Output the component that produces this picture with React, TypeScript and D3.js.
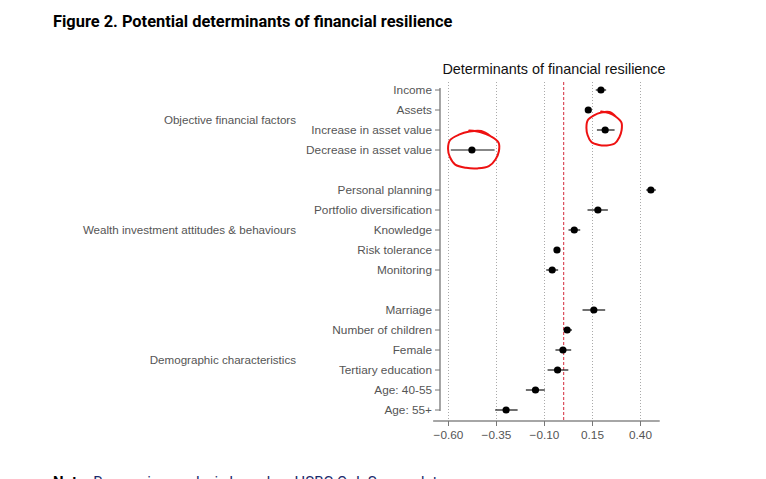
import React, { useRef, useEffect } from "react";
import * as d3 from "d3";

// rows, top to bottom ("" = empty slot between groups)
const rowLabels = [
  "Income",
  "Assets",
  "Increase in asset value",
  "Decrease in asset value",
  "",
  "Personal planning",
  "Portfolio diversification",
  "Knowledge",
  "Risk tolerance",
  "Monitoring",
  "",
  "Marriage",
  "Number of children",
  "Female",
  "Tertiary education",
  "Age: 40-55",
  "Age: 55+",
];
const estimates = [0.194, 0.128, 0.216, -0.478, NaN, 0.454, 0.178, 0.055, -0.035, -0.06, NaN, 0.157, 0.018, -0.004, -0.032, -0.147, -0.3];
const ciLow = [0.167, 0.118, 0.173, -0.588, NaN, 0.43, 0.124, 0.025, -0.045, -0.091, NaN, 0.098, 0.001, -0.043, -0.084, -0.197, -0.357];
const ciHigh = [0.221, 0.138, 0.265, -0.36, NaN, 0.48, 0.23, 0.086, -0.025, -0.029, NaN, 0.216, 0.043, 0.039, 0.024, -0.098, -0.24];

const groupLabels = ["Objective financial factors", "Wealth investment attitudes & behaviours", "Demographic characteristics"];
const groupCenters = [1.5, 7, 13.5]; // slot positions

const xTicks = [-0.6, -0.35, -0.1, 0.15, 0.4];
const circledRows = [3, 2]; // hand-drawn red annotations

const App: React.FC = () => {
  const ref = useRef<SVGSVGElement | null>(null);

  useEffect(() => {
    const svg = d3.select(ref.current);
    svg.selectAll("*").remove();

    const x = d3.scaleLinear().domain([-0.6, 0.4]).range([448.5, 640.5]);
    const y = d3.scaleLinear().domain([0, rowLabels.length - 1]).range([90, 410]);
    const font = "'Liberation Sans', Arial, sans-serif";
    const gridTop = 82;
    const axisY = 421;

    // figure caption
    svg
      .append("text")
      .attr("x", 53)
      .attr("y", 27)
      .attr("font-family", "Roboto, 'Noto Sans', sans-serif")
      .attr("font-weight", 700)
      .attr("font-size", 16.4)
      .attr("fill", "#000")
      .text("Figure 2. Potential determinants of financial resilience");

    // chart title
    svg
      .append("text")
      .attr("x", 554)
      .attr("y", 74)
      .attr("text-anchor", "middle")
      .attr("font-family", font)
      .attr("font-size", 14.4)
      .attr("fill", "#111")
      .text("Determinants of financial resilience");

    // gridlines
    svg
      .append("g")
      .selectAll("line")
      .data(xTicks)
      .enter()
      .append("line")
      .attr("x1", (d) => x(d))
      .attr("x2", (d) => x(d))
      .attr("y1", gridTop)
      .attr("y2", axisY)
      .attr("stroke", "#aaa")
      .attr("stroke-width", 1)
      .attr("stroke-dasharray", "1,2");

    // zero reference line
    svg
      .append("line")
      .attr("x1", x(0))
      .attr("x2", x(0))
      .attr("y1", gridTop)
      .attr("y2", axisY)
      .attr("stroke", "#d42a3a")
      .attr("stroke-width", 1)
      .attr("stroke-dasharray", "3,2");

    // left axis
    const leftX = 440;
    svg
      .append("line")
      .attr("x1", leftX)
      .attr("x2", leftX)
      .attr("y1", y(0) - 2)
      .attr("y2", y(rowLabels.length - 1) + 1)
      .attr("stroke", "#888")
      .attr("stroke-width", 1.5);

    const rows = rowLabels.map((label, i) => ({ label, i })).filter((d) => d.label !== "");
    const rowG = svg.append("g");
    rowG
      .selectAll("line")
      .data(rows)
      .enter()
      .append("line")
      .attr("x1", leftX - 5)
      .attr("x2", leftX)
      .attr("y1", (d) => y(d.i))
      .attr("y2", (d) => y(d.i))
      .attr("stroke", "#777")
      .attr("stroke-width", 1);
    rowG
      .selectAll("text")
      .data(rows)
      .enter()
      .append("text")
      .attr("x", leftX - 8)
      .attr("y", (d) => y(d.i))
      .attr("dy", "0.35em")
      .attr("text-anchor", "end")
      .attr("font-family", font)
      .attr("font-size", 11.8)
      .attr("fill", "#555")
      .text((d) => d.label);

    // group labels
    svg
      .append("g")
      .selectAll("text")
      .data(groupLabels)
      .enter()
      .append("text")
      .attr("x", 296)
      .attr("y", (d, i) => y(groupCenters[i]))
      .attr("dy", "0.35em")
      .attr("text-anchor", "end")
      .attr("font-family", font)
      .attr("font-size", 11.6)
      .attr("fill", "#555")
      .text((d) => d);

    // bottom axis
    const bottom = svg.append("g");
    bottom
      .append("line")
      .attr("x1", x(-0.68))
      .attr("x2", x(0.5))
      .attr("y1", axisY)
      .attr("y2", axisY)
      .attr("stroke", "#888")
      .attr("stroke-width", 1.5);
    bottom
      .selectAll(".tick")
      .data(xTicks)
      .enter()
      .append("line")
      .attr("x1", (d) => x(d))
      .attr("x2", (d) => x(d))
      .attr("y1", axisY)
      .attr("y2", axisY + 5)
      .attr("stroke", "#777");
    bottom
      .selectAll("text")
      .data(xTicks)
      .enter()
      .append("text")
      .attr("x", (d) => x(d))
      .attr("y", axisY + 18)
      .attr("text-anchor", "middle")
      .attr("font-family", font)
      .attr("font-size", 11.8)
      .attr("fill", "#555")
      .text((d) => d3.format(".2f")(d));

    // confidence intervals and points
    const pts = rowLabels
      .map((label, i) => ({ label, i, est: estimates[i], lo: ciLow[i], hi: ciHigh[i] }))
      .filter((d) => !isNaN(d.est));
    svg
      .append("g")
      .selectAll("line")
      .data(pts)
      .enter()
      .append("line")
      .attr("x1", (d) => x(d.lo))
      .attr("x2", (d) => x(d.hi))
      .attr("y1", (d) => y(d.i))
      .attr("y2", (d) => y(d.i))
      .attr("stroke", "#111")
      .attr("stroke-width", 1.2);
    svg
      .append("g")
      .selectAll("circle")
      .data(pts)
      .enter()
      .append("circle")
      .attr("cx", (d) => x(d.est))
      .attr("cy", (d) => y(d.i))
      .attr("r", 3.6)
      .attr("fill", "#000");

    // hand-drawn red circles
    const loop = d3.line<[number, number]>().curve(d3.curveCatmullRom);
    circledRows.forEach((ri, k) => {
      const cx = k === 0 ? x(-0.47) : x(0.21);
      const cy = y(ri) + (k === 0 ? 0 : -1);
      const rx = k === 0 ? 26 : 18;
      const ry = k === 0 ? 19 : 17;
      const n = 14;
      const p: [number, number][] = [];
      for (let j = 0; j <= n + 2; j++) {
        const a = -Math.PI * 0.55 + (j / n) * Math.PI * 2;
        const wob = 1 + (j % 3 === 0 ? 0.04 : -0.02);
        p.push([cx + Math.cos(a) * rx * wob, cy + Math.sin(a) * ry * wob]);
      }
      svg
        .append("path")
        .attr("d", loop(p))
        .attr("fill", "none")
        .attr("stroke", "#ee1111")
        .attr("stroke-width", 2)
        .attr("stroke-linecap", "round");
    });

    // note (cut off at bottom, as in the source)
    const note = svg
      .append("text")
      .attr("x", 53)
      .attr("y", 487)
      .attr("font-family", "Roboto, 'Noto Sans', sans-serif")
      .attr("font-size", 15)
      .attr("fill", "#000");
    note.append("tspan").attr("font-weight", 700).text("Note: ");
    note.append("tspan").attr("fill", "#1a2a6c").text("Regression analysis based on HSBC QoL Survey data");
  }, []);

  return (
    <svg
      ref={ref}
      width={766}
      height={479}
      style={{ position: "absolute", left: 0, top: 0, background: "#fff" }}
    />
  );
};

export default App;
